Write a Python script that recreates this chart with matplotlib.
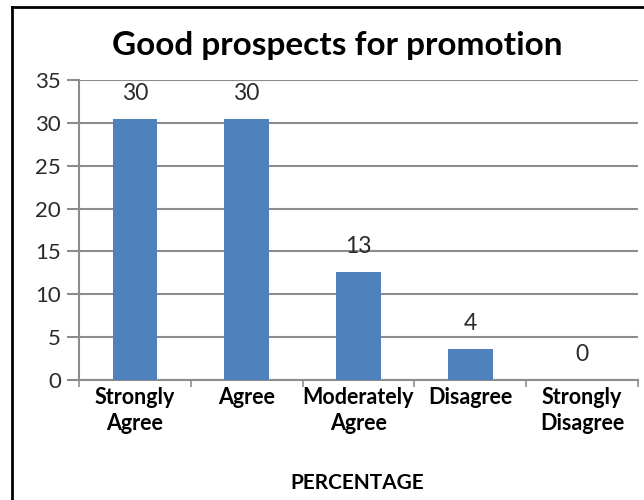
import numpy as np
import matplotlib
matplotlib.use('Agg')
import matplotlib.pyplot as plt
from matplotlib.lines import Line2D

## data
categories = ['Strongly\nAgree', 'Agree', 'Moderately\nAgree', 'Disagree', 'Strongly\nDisagree']
values     = [30.4, 30.4, 12.6, 3.6, 0.0]
labels     = ['30', '30', '13', '4', '0']

plt.rcParams['font.family'] = ['Lato', 'DejaVu Sans']

fig = plt.figure(figsize=(6.44, 5.0), dpi=100)
ax = fig.add_axes([79/644, 1-380/500, 559/644, 300/500])

bar_color  = '#4F81BD'
grid_color = '#8C8C8C'
txt_color  = '#2A2A2A'

x = np.arange(len(categories))
ax.bar(x, values, width=0.4, color=bar_color, zorder=3)

for xi, v, lab in zip(x, values, labels):
    ax.annotate(lab, (xi, v), xytext=(0, 11), textcoords='offset points',
                ha='center', va='bottom', fontsize=16.5, color=txt_color)

ax.set_xlim(-0.5, len(categories) - 0.5)
ax.set_ylim(0, 35)
ax.set_yticks(np.arange(0, 36, 5))
ax.yaxis.grid(True, color=grid_color, lw=1.5, zorder=0)

ax.set_xticks(x)
ax.set_xticklabels(categories, fontsize=15.5, fontweight='bold', linespacing=1.3)
ax.set_xticks(np.arange(-0.5, len(categories)), minor=True)
ax.tick_params(axis='x', which='major', length=0, pad=5)
ax.tick_params(axis='x', which='minor', length=5, color=grid_color, width=1.2)
ax.tick_params(axis='y', length=9, color=grid_color, width=1.5, labelsize=16, pad=4,
               labelcolor=txt_color)

for s in ['top', 'right']:
    ax.spines[s].set_visible(False)
for s in ['left', 'bottom']:
    ax.spines[s].set_color(grid_color)
    ax.spines[s].set_linewidth(1.5)

fig.text(337/644, 1-45/500, 'Good prospects for promotion', ha='center', va='center',
         fontsize=24, fontweight='bold', color='black')
fig.text(357/644, 1-483/500, 'PERCENTAGE', ha='center', va='center',
         fontsize=15, fontweight='bold', color='black')

## frame border (left and top only, rest cut off)
fig.add_artist(Line2D([12/644, 12/644], [0, 1-7/500], transform=fig.transFigure, color='black', lw=2))
fig.add_artist(Line2D([12/644, 1], [1-7/500, 1-7/500], transform=fig.transFigure, color='black', lw=2))

plt.savefig('out.png', dpi=100)
plt.close(fig)
